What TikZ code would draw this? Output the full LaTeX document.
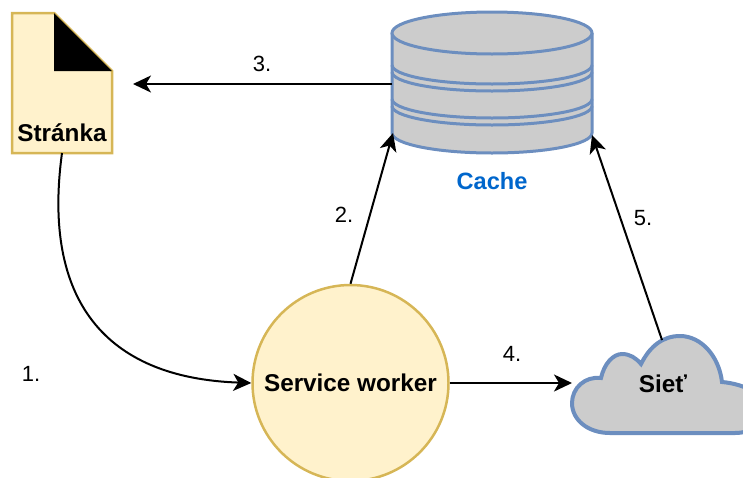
\documentclass[tikz,border=0pt]{standalone}
\usepackage{fontspec}
\setmainfont{Liberation Sans}
\usepackage{xcolor}
\usetikzlibrary{arrows.meta}
\definecolor{noteFill}{HTML}{FFF2CC}
\definecolor{noteLine}{HTML}{D6B656}
\definecolor{grayFill}{HTML}{CCCCCC}
\definecolor{blueLine}{HTML}{6C8EBF}
\definecolor{cacheText}{HTML}{0066CC}
\tikzset{flow/.style={draw=black,line width=2pt,-{Stealth[length=18pt,width=17pt,inset=5pt]}},
main node/.style={font=\fontsize{24.3}{26}\selectfont\bfseries,inner sep=0pt},
step label/.style={font=\fontsize{22}{24}\selectfont,inner sep=0pt}}

\begin{document}
\begin{tikzpicture}[x=1pt,y=-1pt]

\clip (0,0) rectangle (743,477);

%DRAWING page
 \draw[fill=noteFill,draw=noteLine,line width=2.5pt] (12,13)--(54,13)--(112,71)--(112,153)--(12,153)--cycle;
 \fill[black] (54,13)--(112,71)--(54,71)--cycle;
 \node[main node] (PageLabel) at (62,133) {Stránka};
 \coordinate (PageOut) at (62,153);
 \coordinate (PageIn) at (133,84);

%DRAWING cache
 \draw[fill=grayFill,draw=blueLine,line width=3pt] (392,33)--(392,133) arc[start angle=180,end angle=0,x radius=100,y radius=20]--(592,33);
 \draw[fill=grayFill,draw=blueLine,line width=3pt] (492,33) ellipse[x radius=100,y radius=21];
 \foreach \y in {65,72,99,106}
 {\draw[draw=blueLine,line width=3pt] (392,\y) arc[start angle=180,end angle=0,x radius=100,y radius=19];}
 \node[main node,text=cacheText,font=\fontsize{23.6}{26}\selectfont\bfseries] (CacheLabel) at (492,181) {Cache};
 \coordinate (CacheLeft) at (392,84);
 \coordinate (CacheIn2) at (393,133);
 \coordinate (CacheIn5) at (592,135);

%DRAWING service worker and network
 \node[main node,circle,draw=noteLine,fill=noteFill,line width=2.5pt,minimum size=196pt] (Worker) at (350.5,383) {Service worker};

 \draw[fill=grayFill,draw=blueLine,line width=4pt] (610,433)
  .. controls (588,433) and (572,420) .. (572,403)
  .. controls (572,388) and (585,376) .. (601,378)
  .. controls (604,364) and (613,354) .. (622,354)
  .. controls (630,354) and (636,358) .. (641,364)
  .. controls (650,346) and (663,336) .. (680,336)
  .. controls (701,336) and (719,356) .. (722,382)
  .. controls (745,384) and (765,395) .. (765,408)
  .. controls (765,423) and (752,433) .. (735,433)
  -- cycle;
 \node[main node] (CloudLabel) at (663,384) {Sieť};
 \coordinate (CloudIn) at (572,383);
 \coordinate (CloudTop) at (662,340);

%Inserting connectors
 \draw[flow] (PageOut) .. controls (42,300) and (105,378) .. (Worker.west |- CloudIn);
 \draw[flow] (Worker.north) -- (CacheIn2);
 \draw[flow] (CacheLeft) -- (PageIn);
 \draw[flow] (Worker.east |- CloudIn) -- (CloudIn);
 \draw[flow] (CloudTop) -- (CacheIn5);

%Inserting labels
 \node[step label] (Label1) at (31,374) {1.};
 \node[step label] (Label2) at (344,215) {2.};
 \node[step label] (Label3) at (262,64) {3.};
 \node[step label] (Label4) at (512,354) {4.};
 \node[step label] (Label5) at (643,218) {5.};

\end{tikzpicture}
\end{document}
